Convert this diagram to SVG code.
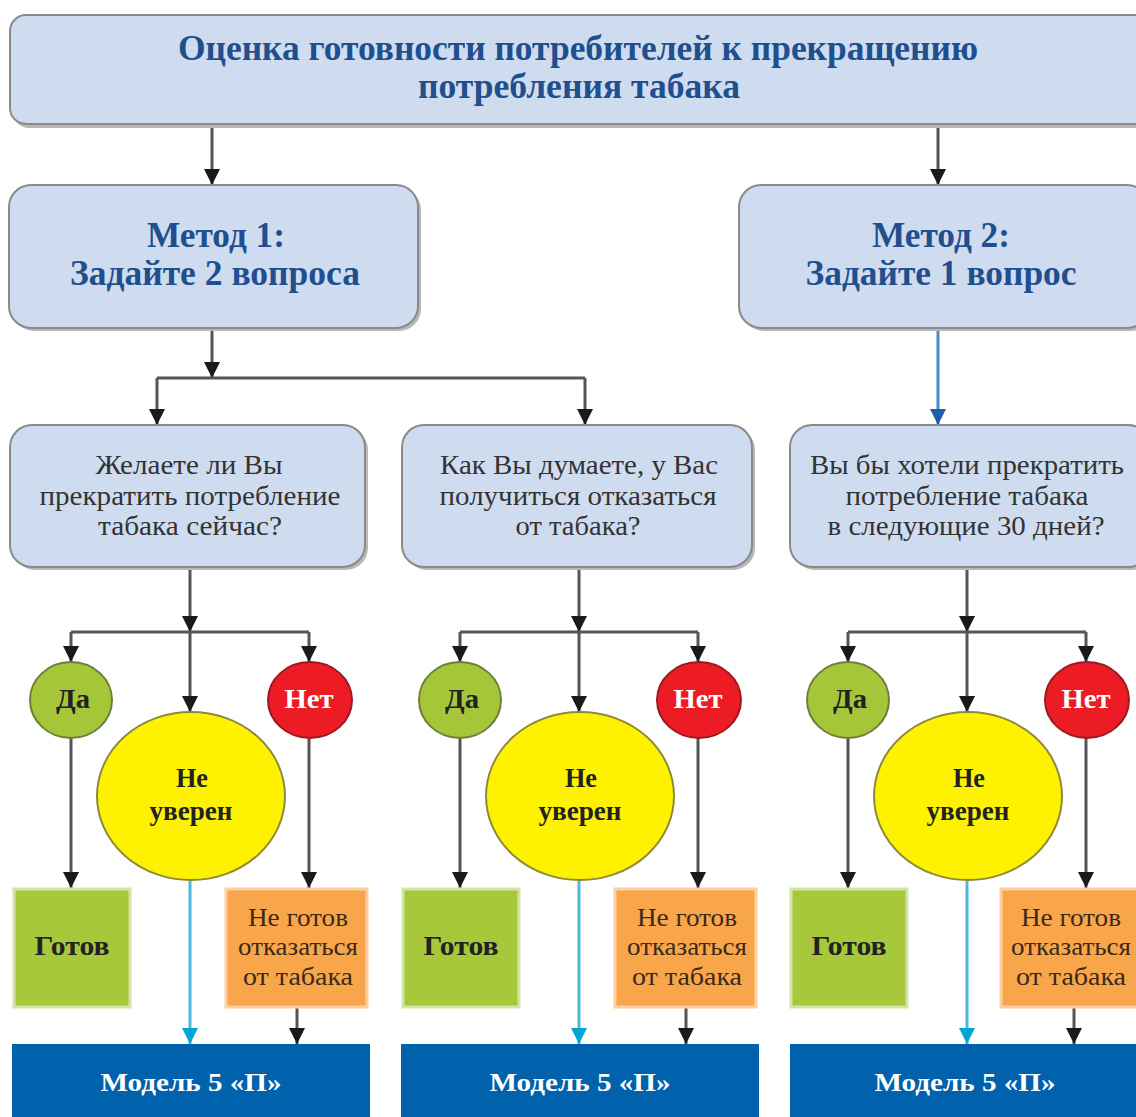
<svg xmlns="http://www.w3.org/2000/svg" width="1136" height="1117" viewBox="0 0 1136 1117">
<defs>
<style>
.box{fill:#cfdcef;stroke:#8a8a8a;stroke-width:2}
.shadow{fill:#b8b8b8}
.title{font-family:"Liberation Serif","Times New Roman",serif;font-weight:bold;fill:#1f4f8e;text-anchor:middle}
.q{font-family:"Liberation Serif","Times New Roman",serif;font-size:28px;fill:#333;text-anchor:middle}
.lbl{font-family:"Liberation Serif","Times New Roman",serif;font-weight:bold;font-size:27px;fill:#222;text-anchor:middle}
.lblw{font-family:"Liberation Serif","Times New Roman",serif;font-weight:bold;font-size:27px;fill:#fff;text-anchor:middle}
.ng{font-family:"Liberation Serif","Times New Roman",serif;font-size:25px;fill:#3a2a1a;text-anchor:middle}
.mod{font-family:"Liberation Serif","Times New Roman",serif;font-weight:bold;font-size:25px;fill:#fff;text-anchor:middle}
.da{fill:#a6c63a;stroke:#6e7f3a;stroke-width:2}
.net{fill:#ed1c24;stroke:#9a1a22;stroke-width:2}
.nu{fill:#fff200;stroke:#8e8a3a;stroke-width:2}
.gotov{fill:#a8c83c;stroke:#d3e5a6;stroke-width:3}
.ngot{fill:#f9a54a;stroke:#fdd0a0;stroke-width:3}
.model{fill:#0061ad}
.ln{fill:none;stroke:#555;stroke-width:3;marker-end:url(#ab)}
.ln0{fill:none;stroke:#555;stroke-width:3}
.lb{fill:none;stroke:#4a8ac8;stroke-width:3;marker-end:url(#abl)}
.lc{fill:none;stroke:#4cb8dc;stroke-width:3;marker-end:url(#ac)}
</style>
<marker id="ab" markerUnits="userSpaceOnUse" markerWidth="16" markerHeight="16" refX="16" refY="8" orient="auto"><path d="M0,0 L16,8 L0,16 z" fill="#1a1a1a"/></marker>
<marker id="abl" markerUnits="userSpaceOnUse" markerWidth="16" markerHeight="16" refX="16" refY="8" orient="auto"><path d="M0,0 L16,8 L0,16 z" fill="#1a5fa8"/></marker>
<marker id="ac" markerUnits="userSpaceOnUse" markerWidth="16" markerHeight="16" refX="16" refY="8" orient="auto"><path d="M0,0 L16,8 L0,16 z" fill="#00a5d5"/></marker>
</defs>
<rect width="1136" height="1117" fill="#fff"/>

<g id="connectors">
<path class="ln" d="M212,125 L212,185"/>
<path class="ln" d="M938,125 L938,185"/>
<path class="ln" d="M212,328 L212,378"/>
<path class="ln0" d="M157,378 L585,378"/>
<path class="ln" d="M157,378 L157,425"/>
<path class="ln" d="M585,378 L585,425"/>
<path class="lb" d="M938,328 L938,425"/>
<path class="ln" d="M190,567 L190,632"/>
<path class="ln0" d="M71,632 L309,632"/>
<path class="ln" d="M71,632 L71,662"/>
<path class="ln" d="M190,632 L190,712"/>
<path class="ln" d="M309,632 L309,662"/>
<path class="ln" d="M71,738 L71,888"/>
<path class="ln" d="M309,738 L309,888"/>
<path class="lc" d="M190,880 L190,1044"/>
<path class="ln" d="M297,1008 L297,1044"/>
<path class="ln" d="M579,567 L579,632"/>
<path class="ln0" d="M460,632 L698,632"/>
<path class="ln" d="M460,632 L460,662"/>
<path class="ln" d="M579,632 L579,712"/>
<path class="ln" d="M698,632 L698,662"/>
<path class="ln" d="M460,738 L460,888"/>
<path class="ln" d="M698,738 L698,888"/>
<path class="lc" d="M579,880 L579,1044"/>
<path class="ln" d="M686,1008 L686,1044"/>
<path class="ln" d="M967,567 L967,632"/>
<path class="ln0" d="M848,632 L1086,632"/>
<path class="ln" d="M848,632 L848,662"/>
<path class="ln" d="M967,632 L967,712"/>
<path class="ln" d="M1086,632 L1086,662"/>
<path class="ln" d="M848,738 L848,888"/>
<path class="ln" d="M1086,738 L1086,888"/>
<path class="lc" d="M967,880 L967,1044"/>
<path class="ln" d="M1074,1008 L1074,1044"/>
</g>

<g id="top">
<rect class="shadow" x="13" y="18" width="1140" height="110" rx="16"/>
<rect class="box" x="10" y="15" width="1140" height="109" rx="16"/>
<text class="title" x="578" y="60" font-size="36" textLength="800" lengthAdjust="spacingAndGlyphs">Оценка готовности потребителей к прекращению</text>
<text class="title" x="579" y="98" font-size="36" textLength="322" lengthAdjust="spacingAndGlyphs">потребления табака</text>
</g>

<g id="method1">
<rect class="shadow" x="12" y="188" width="409" height="143" rx="22"/>
<rect class="box" x="9" y="185" width="409" height="143" rx="22"/>
<text class="title" x="216" y="247" font-size="35" textLength="138" lengthAdjust="spacingAndGlyphs">Метод 1:</text>
<text class="title" x="215" y="285" font-size="35" textLength="290" lengthAdjust="spacingAndGlyphs">Задайте 2 вопроса</text>
</g>

<g id="method2">
<rect class="shadow" x="742" y="188" width="410" height="143" rx="22"/>
<rect class="box" x="739" y="185" width="410" height="143" rx="22"/>
<text class="title" x="941" y="247" font-size="35" textLength="138" lengthAdjust="spacingAndGlyphs">Метод 2:</text>
<text class="title" x="941" y="285" font-size="35" textLength="271" lengthAdjust="spacingAndGlyphs">Задайте 1 вопрос</text>
</g>

<g id="q1">
<rect class="shadow" x="13" y="428" width="355" height="142" rx="22"/>
<rect class="box" x="10" y="425" width="355" height="142" rx="22"/>
<text class="q" x="189" y="474" textLength="187" lengthAdjust="spacingAndGlyphs">Желаете ли Вы</text>
<text class="q" x="190" y="505" textLength="301" lengthAdjust="spacingAndGlyphs">прекратить потребление</text>
<text class="q" x="190" y="535" textLength="184" lengthAdjust="spacingAndGlyphs">табака сейчас?</text>
</g>

<g id="q2">
<rect class="shadow" x="405" y="428" width="350" height="142" rx="22"/>
<rect class="box" x="402" y="425" width="350" height="142" rx="22"/>
<text class="q" x="579" y="474" textLength="278" lengthAdjust="spacingAndGlyphs">Как Вы думаете, у Вас</text>
<text class="q" x="578" y="505" textLength="277" lengthAdjust="spacingAndGlyphs">получиться отказаться</text>
<text class="q" x="578" y="535" textLength="125" lengthAdjust="spacingAndGlyphs">от табака?</text>
</g>

<g id="q3">
<rect class="shadow" x="793" y="428" width="360" height="142" rx="22"/>
<rect class="box" x="790" y="425" width="360" height="142" rx="22"/>
<text class="q" x="967" y="474" textLength="314" lengthAdjust="spacingAndGlyphs">Вы бы хотели прекратить</text>
<text class="q" x="967" y="505" textLength="243" lengthAdjust="spacingAndGlyphs">потребление табака</text>
<text class="q" x="966" y="535" textLength="277" lengthAdjust="spacingAndGlyphs">в следующие 30 дней?</text>
</g>

<g id="da1"><ellipse class="da" cx="71" cy="700" rx="41" ry="38"/><text class="lbl" x="73" y="708" textLength="34" lengthAdjust="spacingAndGlyphs">Да</text></g>
<g id="net1"><ellipse class="net" cx="310" cy="700" rx="42" ry="38"/><text class="lblw" x="309" y="708" textLength="49" lengthAdjust="spacingAndGlyphs">Нет</text></g>
<g id="nu1"><ellipse class="nu" cx="191" cy="796" rx="94" ry="84"/><text class="lbl" x="192" y="787" textLength="32" lengthAdjust="spacingAndGlyphs">Не</text><text class="lbl" x="191" y="820" textLength="83" lengthAdjust="spacingAndGlyphs">уверен</text></g>
<g id="gotov1"><rect class="gotov" x="14" y="889" width="116" height="118"/><text class="lbl" x="72" y="955" textLength="75" lengthAdjust="spacingAndGlyphs">Готов</text></g>
<g id="ngotov1"><rect class="ngot" x="226" y="889" width="141" height="118"/><text class="ng" x="298" y="926" textLength="100" lengthAdjust="spacingAndGlyphs">Не готов</text><text class="ng" x="298" y="955" textLength="120" lengthAdjust="spacingAndGlyphs">отказаться</text><text class="ng" x="298" y="985" textLength="110" lengthAdjust="spacingAndGlyphs">от табака</text></g>
<g id="model1"><rect class="model" x="12" y="1044" width="358" height="80"/><text class="mod" x="191" y="1091" textLength="181" lengthAdjust="spacingAndGlyphs">Модель 5 «П»</text></g>

<g id="da2"><ellipse class="da" cx="460" cy="700" rx="41" ry="38"/><text class="lbl" x="462" y="708" textLength="34" lengthAdjust="spacingAndGlyphs">Да</text></g>
<g id="net2"><ellipse class="net" cx="699" cy="700" rx="42" ry="38"/><text class="lblw" x="698" y="708" textLength="49" lengthAdjust="spacingAndGlyphs">Нет</text></g>
<g id="nu2"><ellipse class="nu" cx="580" cy="796" rx="94" ry="84"/><text class="lbl" x="581" y="787" textLength="32" lengthAdjust="spacingAndGlyphs">Не</text><text class="lbl" x="580" y="820" textLength="83" lengthAdjust="spacingAndGlyphs">уверен</text></g>
<g id="gotov2"><rect class="gotov" x="403" y="889" width="116" height="118"/><text class="lbl" x="461" y="955" textLength="75" lengthAdjust="spacingAndGlyphs">Готов</text></g>
<g id="ngotov2"><rect class="ngot" x="615" y="889" width="141" height="118"/><text class="ng" x="687" y="926" textLength="100" lengthAdjust="spacingAndGlyphs">Не готов</text><text class="ng" x="687" y="955" textLength="120" lengthAdjust="spacingAndGlyphs">отказаться</text><text class="ng" x="687" y="985" textLength="110" lengthAdjust="spacingAndGlyphs">от табака</text></g>
<g id="model2"><rect class="model" x="401" y="1044" width="358" height="80"/><text class="mod" x="580" y="1091" textLength="181" lengthAdjust="spacingAndGlyphs">Модель 5 «П»</text></g>

<g id="da3"><ellipse class="da" cx="848" cy="700" rx="41" ry="38"/><text class="lbl" x="850" y="708" textLength="34" lengthAdjust="spacingAndGlyphs">Да</text></g>
<g id="net3"><ellipse class="net" cx="1087" cy="700" rx="42" ry="38"/><text class="lblw" x="1086" y="708" textLength="49" lengthAdjust="spacingAndGlyphs">Нет</text></g>
<g id="nu3"><ellipse class="nu" cx="968" cy="796" rx="94" ry="84"/><text class="lbl" x="969" y="787" textLength="32" lengthAdjust="spacingAndGlyphs">Не</text><text class="lbl" x="968" y="820" textLength="83" lengthAdjust="spacingAndGlyphs">уверен</text></g>
<g id="gotov3"><rect class="gotov" x="791" y="889" width="116" height="118"/><text class="lbl" x="849" y="955" textLength="75" lengthAdjust="spacingAndGlyphs">Готов</text></g>
<g id="ngotov3"><rect class="ngot" x="1001" y="889" width="141" height="118"/><text class="ng" x="1071" y="926" textLength="100" lengthAdjust="spacingAndGlyphs">Не готов</text><text class="ng" x="1071" y="955" textLength="120" lengthAdjust="spacingAndGlyphs">отказаться</text><text class="ng" x="1071" y="985" textLength="110" lengthAdjust="spacingAndGlyphs">от табака</text></g>
<g id="model3"><rect class="model" x="790" y="1044" width="358" height="80"/><text class="mod" x="965" y="1091" textLength="181" lengthAdjust="spacingAndGlyphs">Модель 5 «П»</text></g>
</svg>
